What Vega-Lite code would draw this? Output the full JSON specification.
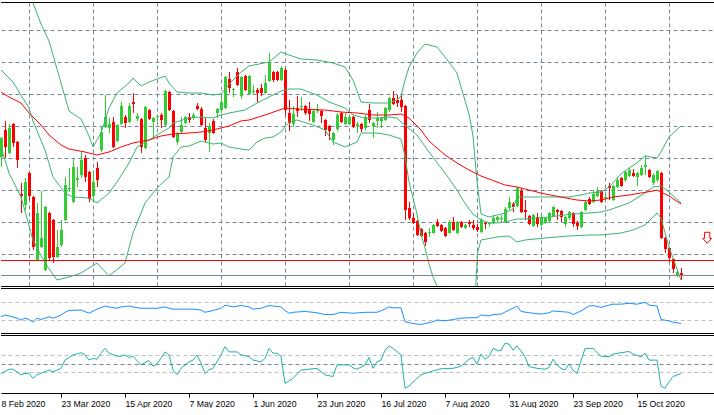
{
  "$schema": "https://vega.github.io/schema/vega-lite/v6.json",
  "description": "Daily candles with Bollinger bands, moving average and two oscillator panels, 28 Feb - 30 Oct 2020.",
  "width": 714,
  "height": 391,
  "autosize": {"type": "pad"},
  "padding": {"left": -1, "top": 2, "right": -1, "bottom": 0},
  "background": "#ffffff",
  "config": {
    "view": {"stroke": null},
    "scale": {"continuousPadding": 0},
    "axis": {"labels": false, "ticks": false, "domain": false, "grid": false, "gridColor": "#778899", "gridDash": [4, 3], "gridWidth": 1, "gridOpacity": 1, "orient": "left"}
  },
  "datasets": {
    "candles": [
      {"k":0,"o":129,"h":149,"l":119,"c":148},{"k":1,"o":156,"h":165,"l":128,"c":139},{"k":2,"o":133,"h":162,"l":132,"c":158},
      {"k":3,"o":162,"h":163,"l":139,"c":143},{"k":4,"o":144,"h":145,"l":118,"c":126},{"k":5,"o":92,"h":103,"l":73,"c":90},
      {"k":6,"o":81,"h":108,"l":76,"c":104},{"k":7,"o":113,"h":114,"l":86,"c":90},{"k":8,"o":89,"h":90,"l":36,"c":39},
      {"k":9,"o":26,"h":83,"l":25,"c":73},{"k":10,"o":39,"h":95,"l":38,"c":48},{"k":11,"o":16,"h":80,"l":15,"c":79},
      {"k":12,"o":73,"h":74,"l":26,"c":28},{"k":13,"o":66,"h":67,"l":23,"c":29},{"k":14,"o":29,"h":56,"l":28,"c":39},
      {"k":15,"o":41,"h":66,"l":39,"c":56},{"k":16,"o":66,"h":109,"l":65,"c":101},{"k":17,"o":97,"h":118,"l":94,"c":98},
      {"k":18,"o":84,"h":127,"l":83,"c":119},{"k":19,"o":106,"h":119,"l":99,"c":108},{"k":20,"o":111,"h":135,"l":108,"c":126},
      {"k":21,"o":128,"h":131,"l":104,"c":109},{"k":22,"o":114,"h":115,"l":84,"c":87},{"k":23,"o":90,"h":114,"l":84,"c":104},
      {"k":24,"o":118,"h":124,"l":99,"c":106},{"k":25,"o":136,"h":159,"l":134,"c":154},{"k":26,"o":159,"h":191,"l":158,"c":169},
      {"k":27,"o":158,"h":168,"l":153,"c":162},{"k":28,"o":164,"h":169,"l":138,"c":139},{"k":29,"o":145,"h":162,"l":144,"c":161},
      {"k":30,"o":162,"h":184,"l":161,"c":180},{"k":31,"o":169,"h":171,"l":158,"c":163},{"k":32,"o":164,"h":183,"l":163,"c":180},
      {"k":33,"o":184,"h":193,"l":173,"c":182},{"k":34,"o":167,"h":173,"l":165,"c":170},{"k":35,"o":167,"h":168,"l":133,"c":139},
      {"k":36,"o":138,"h":180,"l":137,"c":179},{"k":37,"o":176,"h":177,"l":166,"c":167},{"k":38,"o":164,"h":169,"l":148,"c":168},
      {"k":39,"o":169,"h":171,"l":165,"c":170},{"k":40,"o":171,"h":173,"l":158,"c":166},{"k":41,"o":161,"h":196,"l":160,"c":195},
      {"k":42,"o":194,"h":195,"l":175,"c":176},{"k":43,"o":175,"h":176,"l":148,"c":149},{"k":44,"o":144,"h":154,"l":141,"c":153},
      {"k":45,"o":154,"h":169,"l":153,"c":161},{"k":46,"o":163,"h":170,"l":162,"c":169},{"k":47,"o":169,"h":173,"l":163,"c":166},
      {"k":48,"o":168,"h":173,"l":166,"c":171},{"k":49,"o":180,"h":183,"l":176,"c":177},{"k":50,"o":177,"h":179,"l":160,"c":161},
      {"k":51,"o":158,"h":168,"l":144,"c":146},{"k":52,"o":153,"h":163,"l":134,"c":160},{"k":53,"o":165,"h":167,"l":152,"c":153},
      {"k":54,"o":173,"h":178,"l":168,"c":177},{"k":55,"o":176,"h":193,"l":173,"c":184},{"k":56,"o":178,"h":210,"l":177,"c":209},
      {"k":57,"o":207,"h":214,"l":193,"c":198},{"k":58,"o":196,"h":198,"l":189,"c":197},{"k":59,"o":214,"h":218,"l":200,"c":201},
      {"k":60,"o":190,"h":210,"l":187,"c":209},{"k":61,"o":210,"h":211,"l":195,"c":196},{"k":62,"o":192,"h":211,"l":191,"c":210},
      {"k":63,"o":194,"h":201,"l":191,"c":195},{"k":64,"o":196,"h":198,"l":183,"c":193},{"k":65,"o":198,"h":202,"l":190,"c":193},
      {"k":66,"o":193,"h":211,"l":192,"c":203},{"k":67,"o":205,"h":233,"l":204,"c":223},{"k":68,"o":214,"h":215,"l":204,"c":206},
      {"k":69,"o":214,"h":215,"l":205,"c":206},{"k":70,"o":206,"h":220,"l":205,"c":218},{"k":71,"o":216,"h":218,"l":171,"c":176},
      {"k":72,"o":173,"h":186,"l":155,"c":163},{"k":73,"o":162,"h":180,"l":159,"c":172},{"k":74,"o":178,"h":190,"l":169,"c":175},
      {"k":75,"o":179,"h":189,"l":175,"c":180},{"k":76,"o":180,"h":181,"l":171,"c":173},{"k":77,"o":176,"h":184,"l":165,"c":172},
      {"k":78,"o":164,"h":176,"l":163,"c":175},{"k":79,"o":175,"h":182,"l":173,"c":177},{"k":80,"o":175,"h":176,"l":163,"c":170},
      {"k":81,"o":166,"h":167,"l":150,"c":156},{"k":82,"o":160,"h":161,"l":146,"c":155},{"k":83,"o":146,"h":154,"l":141,"c":153},
      {"k":84,"o":157,"h":173,"l":155,"c":171},{"k":85,"o":173,"h":174,"l":163,"c":164},{"k":86,"o":162,"h":173,"l":161,"c":169},
      {"k":87,"o":162,"h":170,"l":161,"c":169},{"k":88,"o":169,"h":170,"l":158,"c":159},{"k":89,"o":160,"h":164,"l":153,"c":162},
      {"k":90,"o":162,"h":163,"l":154,"c":157},{"k":91,"o":158,"h":171,"l":156,"c":169},{"k":92,"o":176,"h":182,"l":163,"c":166},
      {"k":93,"o":160,"h":164,"l":148,"c":163},{"k":94,"o":165,"h":174,"l":158,"c":168},{"k":95,"o":165,"h":169,"l":158,"c":168},
      {"k":96,"o":166,"h":179,"l":165,"c":178},{"k":97,"o":176,"h":189,"l":174,"c":188},{"k":98,"o":188,"h":195,"l":181,"c":182},
      {"k":99,"o":186,"h":191,"l":179,"c":183},{"k":100,"o":186,"h":192,"l":174,"c":179},{"k":101,"o":180,"h":181,"l":66,"c":76},
      {"k":102,"o":78,"h":84,"l":66,"c":68},{"k":103,"o":68,"h":73,"l":62,"c":63},{"k":104,"o":65,"h":66,"l":50,"c":51},
      {"k":105,"o":57,"h":58,"l":49,"c":50},{"k":106,"o":53,"h":54,"l":40,"c":44},{"k":107,"o":53,"h":58,"l":49,"c":54},
      {"k":108,"o":53,"h":62,"l":52,"c":61},{"k":109,"o":64,"h":67,"l":59,"c":60},{"k":110,"o":61,"h":62,"l":54,"c":55},
      {"k":111,"o":58,"h":59,"l":49,"c":50},{"k":112,"o":53,"h":66,"l":52,"c":64},{"k":113,"o":64,"h":69,"l":55,"c":56},
      {"k":114,"o":53,"h":65,"l":52,"c":64},{"k":115,"o":64,"h":65,"l":58,"c":59},{"k":116,"o":58,"h":62,"l":57,"c":61},
      {"k":117,"o":64,"h":66,"l":59,"c":62},{"k":118,"o":61,"h":66,"l":56,"c":58},{"k":119,"o":59,"h":62,"l":54,"c":56},
      {"k":120,"o":54,"h":68,"l":53,"c":66},{"k":121,"o":63,"h":64,"l":57,"c":62},{"k":122,"o":62,"h":64,"l":59,"c":63},
      {"k":123,"o":63,"h":71,"l":62,"c":68},{"k":124,"o":66,"h":70,"l":64,"c":69},{"k":125,"o":67,"h":71,"l":64,"c":68},
      {"k":126,"o":64,"h":79,"l":63,"c":77},{"k":127,"o":78,"h":89,"l":76,"c":84},{"k":128,"o":82,"h":84,"l":74,"c":79},
      {"k":129,"o":80,"h":99,"l":79,"c":98},{"k":130,"o":95,"h":98,"l":73,"c":74},{"k":131,"o":76,"h":86,"l":66,"c":74},
      {"k":132,"o":70,"h":71,"l":61,"c":62},{"k":133,"o":60,"h":72,"l":59,"c":71},{"k":134,"o":69,"h":73,"l":59,"c":62},
      {"k":135,"o":61,"h":73,"l":60,"c":68},{"k":136,"o":63,"h":69,"l":62,"c":68},{"k":137,"o":65,"h":74,"l":64,"c":73},
      {"k":138,"o":70,"h":80,"l":69,"c":79},{"k":139,"o":76,"h":77,"l":66,"c":74},{"k":140,"o":75,"h":76,"l":64,"c":69},
      {"k":141,"o":62,"h":70,"l":59,"c":69},{"k":142,"o":68,"h":75,"l":66,"c":74},{"k":143,"o":73,"h":74,"l":59,"c":62},
      {"k":144,"o":63,"h":65,"l":56,"c":60},{"k":145,"o":59,"h":75,"l":58,"c":74},{"k":146,"o":76,"h":86,"l":75,"c":84},
      {"k":147,"o":87,"h":89,"l":81,"c":82},{"k":148,"o":84,"h":96,"l":83,"c":92},{"k":149,"o":90,"h":99,"l":89,"c":95},
      {"k":150,"o":95,"h":96,"l":83,"c":84},{"k":151,"o":88,"h":91,"l":87,"c":89},{"k":152,"o":100,"h":103,"l":86,"c":98},
      {"k":153,"o":86,"h":101,"l":85,"c":100},{"k":154,"o":99,"h":109,"l":98,"c":106},{"k":155,"o":108,"h":109,"l":99,"c":100},
      {"k":156,"o":106,"h":116,"l":104,"c":114},{"k":157,"o":110,"h":118,"l":109,"c":116},{"k":158,"o":113,"h":117,"l":109,"c":110},
      {"k":159,"o":109,"h":114,"l":100,"c":113},{"k":160,"o":111,"h":121,"l":110,"c":118},{"k":161,"o":119,"h":131,"l":111,"c":121},
      {"k":162,"o":116,"h":117,"l":108,"c":109},{"k":163,"o":103,"h":113,"l":101,"c":111},{"k":164,"o":106,"h":116,"l":104,"c":115},
      {"k":165,"o":113,"h":114,"l":47,"c":48},{"k":166,"o":48,"h":49,"l":33,"c":37},{"k":167,"o":38,"h":39,"l":24,"c":28},
      {"k":168,"o":27,"h":28,"l":13,"c":17},{"k":169,"o":10,"h":15,"l":9,"c":14},{"k":170,"o":13,"h":18,"l":6,"c":11}
    ],
    "bands": [
      {"b":"up","k":6,"v":305},{"b":"up","k":8,"v":283},{"b":"up","k":10,"v":262},{"b":"up","k":12,"v":245},{"b":"up","k":15,"v":203},
      {"b":"up","k":17,"v":175},{"b":"up","k":20,"v":167},{"b":"up","k":22,"v":150},{"b":"up","k":23,"v":139},{"b":"up","k":25,"v":153},
      {"b":"up","k":27,"v":178},{"b":"up","k":29,"v":193},{"b":"up","k":32,"v":203},{"b":"up","k":33,"v":208},{"b":"up","k":35,"v":200},
      {"b":"up","k":37,"v":204},{"b":"up","k":39,"v":207},{"b":"up","k":41,"v":210},{"b":"up","k":42,"v":203},{"b":"up","k":44,"v":194},
      {"b":"up","k":47,"v":193},{"b":"up","k":50,"v":193},{"b":"up","k":53,"v":191},{"b":"up","k":55,"v":192},{"b":"up","k":57,"v":202},
      {"b":"up","k":60,"v":214},{"b":"up","k":62,"v":220},{"b":"up","k":67,"v":224},{"b":"up","k":70,"v":234},{"b":"up","k":72,"v":231},
      {"b":"up","k":75,"v":227},{"b":"up","k":79,"v":226},{"b":"up","k":83,"v":223},{"b":"up","k":86,"v":219},{"b":"up","k":88,"v":206},
      {"b":"up","k":90,"v":184},{"b":"up","k":93,"v":183},{"b":"up","k":97,"v":183},{"b":"up","k":99,"v":186},{"b":"up","k":100,"v":190},
      {"b":"up","k":101,"v":206},{"b":"up","k":102,"v":219},{"b":"up","k":104,"v":233},{"b":"up","k":106,"v":242},{"b":"up","k":109,"v":239},
      {"b":"up","k":111,"v":229},{"b":"up","k":114,"v":213},{"b":"up","k":115,"v":199},{"b":"up","k":117,"v":172},{"b":"up","k":118,"v":150},
      {"b":"up","k":119,"v":105},{"b":"up","k":120,"v":72},{"b":"up","k":122,"v":69},{"b":"up","k":126,"v":73},{"b":"up","k":128,"v":77},
      {"b":"up","k":129,"v":89},{"b":"up","k":138,"v":89},{"b":"up","k":142,"v":89},{"b":"up","k":145,"v":91},{"b":"up","k":147,"v":93},
      {"b":"up","k":150,"v":94},{"b":"up","k":152,"v":99},{"b":"up","k":155,"v":112},{"b":"up","k":157,"v":118},{"b":"up","k":159,"v":123},
      {"b":"up","k":161,"v":130},{"b":"up","k":164,"v":128},{"b":"up","k":165,"v":134},{"b":"up","k":167,"v":149},{"b":"up","k":170,"v":160},
      {"b":"mid","k":0,"v":216},{"b":"mid","k":3,"v":204},{"b":"mid","k":7,"v":178},{"b":"mid","k":8,"v":165},{"b":"mid","k":11,"v":136},
      {"b":"mid","k":13,"v":109},{"b":"mid","k":16,"v":93},{"b":"mid","k":18,"v":89},{"b":"mid","k":22,"v":88},{"b":"mid","k":24,"v":83},
      {"b":"mid","k":27,"v":93},{"b":"mid","k":29,"v":104},{"b":"mid","k":32,"v":123},{"b":"mid","k":34,"v":139},{"b":"mid","k":37,"v":146},
      {"b":"mid","k":39,"v":151},{"b":"mid","k":42,"v":158},{"b":"mid","k":43,"v":163},{"b":"mid","k":47,"v":168},{"b":"mid","k":50,"v":169},
      {"b":"mid","k":53,"v":168},{"b":"mid","k":55,"v":171},{"b":"mid","k":57,"v":173},{"b":"mid","k":61,"v":176},{"b":"mid","k":64,"v":183},
      {"b":"mid","k":67,"v":189},{"b":"mid","k":70,"v":195},{"b":"mid","k":72,"v":197},{"b":"mid","k":75,"v":197},{"b":"mid","k":79,"v":191},
      {"b":"mid","k":82,"v":184},{"b":"mid","k":86,"v":178},{"b":"mid","k":88,"v":171},{"b":"mid","k":91,"v":168},{"b":"mid","k":94,"v":168},
      {"b":"mid","k":97,"v":169},{"b":"mid","k":99,"v":168},{"b":"mid","k":100,"v":164},{"b":"mid","k":104,"v":151},{"b":"mid","k":107,"v":134},
      {"b":"mid","k":111,"v":113},{"b":"mid","k":114,"v":96},{"b":"mid","k":115,"v":89},{"b":"mid","k":117,"v":77},{"b":"mid","k":118,"v":72},
      {"b":"mid","k":120,"v":66},{"b":"mid","k":122,"v":63},{"b":"mid","k":124,"v":63},{"b":"mid","k":126,"v":64},{"b":"mid","k":129,"v":67},
      {"b":"mid","k":131,"v":67},{"b":"mid","k":137,"v":69},{"b":"mid","k":143,"v":72},{"b":"mid","k":147,"v":73},{"b":"mid","k":150,"v":74},
      {"b":"mid","k":152,"v":76},{"b":"mid","k":157,"v":83},{"b":"mid","k":161,"v":93},{"b":"mid","k":163,"v":99},{"b":"mid","k":165,"v":100},
      {"b":"mid","k":167,"v":94},{"b":"mid","k":170,"v":83},
      {"b":"loA","k":0,"v":139},{"b":"loA","k":2,"v":113},{"b":"loA","k":5,"v":89},{"b":"loA","k":8,"v":46},{"b":"loA","k":11,"v":23},
      {"b":"loA","k":14,"v":6},{"b":"loA","k":17,"v":9},{"b":"loA","k":20,"v":13},{"b":"loA","k":24,"v":23},{"b":"loA","k":27,"v":10},
      {"b":"loA","k":31,"v":23},{"b":"loA","k":33,"v":53},{"b":"loA","k":36,"v":83},{"b":"loA","k":39,"v":98},{"b":"loA","k":42,"v":109},
      {"b":"loA","k":43,"v":129},{"b":"loA","k":45,"v":139},{"b":"loA","k":47,"v":140},{"b":"loA","k":50,"v":145},{"b":"loA","k":53,"v":142},
      {"b":"loA","k":55,"v":143},{"b":"loA","k":57,"v":139},{"b":"loA","k":60,"v":137},{"b":"loA","k":62,"v":136},{"b":"loA","k":64,"v":144},
      {"b":"loA","k":66,"v":148},{"b":"loA","k":68,"v":149},{"b":"loA","k":70,"v":154},{"b":"loA","k":72,"v":164},{"b":"loA","k":74,"v":166},
      {"b":"loA","k":78,"v":161},{"b":"loA","k":81,"v":156},{"b":"loA","k":83,"v":144},{"b":"loA","k":86,"v":139},{"b":"loA","k":89,"v":144},
      {"b":"loA","k":90,"v":153},{"b":"loA","k":94,"v":153},{"b":"loA","k":97,"v":151},{"b":"loA","k":100,"v":147},{"b":"loA","k":101,"v":130},
      {"b":"loA","k":102,"v":104},{"b":"loA","k":103,"v":88},{"b":"loA","k":104,"v":72},{"b":"loA","k":105,"v":52},{"b":"loA","k":106,"v":38},
      {"b":"loA","k":107,"v":22},{"b":"loA","k":108,"v":9},{"b":"loA","k":109,"v":0},
      {"b":"loB","k":118.7,"v":0},{"b":"loB","k":119.1,"v":33},{"b":"loB","k":120,"v":46},{"b":"loB","k":124,"v":49},{"b":"loB","k":127,"v":50},
      {"b":"loB","k":129,"v":44},{"b":"loB","k":131,"v":46},{"b":"loB","k":136,"v":48},{"b":"loB","k":142,"v":50},{"b":"loB","k":147,"v":51},
      {"b":"loB","k":150,"v":51},{"b":"loB","k":155,"v":53},{"b":"loB","k":158,"v":56},{"b":"loB","k":161,"v":61},{"b":"loB","k":163,"v":69},
      {"b":"loB","k":164,"v":73},{"b":"loB","k":165,"v":68},{"b":"loB","k":167,"v":39},{"b":"loB","k":170,"v":6}
    ],
    "ma": [
      {"k":0,"v":194},{"k":2,"v":189},{"k":5,"v":183},{"k":7,"v":173},{"k":10,"v":161},{"k":12,"v":151},{"k":15,"v":141},{"k":17,"v":137},
      {"k":21,"v":134},{"k":24,"v":131},{"k":27,"v":134},{"k":30,"v":139},{"k":33,"v":143},{"k":37,"v":146},{"k":40,"v":150},{"k":43,"v":152},
      {"k":47,"v":153},{"k":50,"v":154},{"k":53,"v":156},{"k":57,"v":160},{"k":60,"v":165},{"k":62,"v":166},{"k":66,"v":171},{"k":71,"v":178},
      {"k":74,"v":177},{"k":81,"v":176},{"k":85,"v":174},{"k":89,"v":173},{"k":93,"v":171},{"k":97,"v":171},{"k":100,"v":172},{"k":102,"v":168},
      {"k":105,"v":156},{"k":107,"v":145},{"k":111,"v":131},{"k":114,"v":123},{"k":117,"v":116},{"k":120,"v":110},{"k":122,"v":107},{"k":126,"v":101},
      {"k":129,"v":99},{"k":132,"v":96},{"k":136,"v":92},{"k":140,"v":89},{"k":144,"v":86},{"k":147,"v":85},{"k":150,"v":86},{"k":153,"v":89},
      {"k":157,"v":91},{"k":160,"v":93},{"k":163,"v":95},{"k":164,"v":96},{"k":167,"v":90},{"k":170,"v":82}
    ],
    "signals": [{"k":176.55,"p":48.2}],
    "osc1": [
      {"k":0,"v":36},{"k":1,"v":40},{"k":2,"v":38},{"k":4,"v":33},{"k":5,"v":29},{"k":6,"v":33},{"k":7,"v":30},{"k":8,"v":24},{"k":9,"v":33},
      {"k":10,"v":30},{"k":12,"v":36},{"k":13,"v":33},{"k":14,"v":36},{"k":15,"v":40},{"k":16,"v":46},{"k":17,"v":50},{"k":20,"v":51},{"k":22,"v":44},
      {"k":24,"v":53},{"k":26,"v":60},{"k":27,"v":58},{"k":29,"v":55},{"k":30,"v":58},{"k":32,"v":60},{"k":33,"v":58},{"k":35,"v":55},{"k":37,"v":55},
      {"k":39,"v":55},{"k":41,"v":58},{"k":42,"v":55},{"k":43,"v":53},{"k":46,"v":53},{"k":48,"v":53},{"k":50,"v":51},{"k":51,"v":46},{"k":53,"v":50},
      {"k":55,"v":55},{"k":56,"v":62},{"k":58,"v":58},{"k":60,"v":61},{"k":62,"v":58},{"k":63,"v":53},{"k":65,"v":55},{"k":67,"v":61},{"k":70,"v":58},
      {"k":71,"v":50},{"k":72,"v":44},{"k":73,"v":46},{"k":76,"v":48},{"k":79,"v":45},{"k":81,"v":41},{"k":83,"v":41},{"k":85,"v":46},{"k":88,"v":44},
      {"k":91,"v":46},{"k":94,"v":46},{"k":96,"v":53},{"k":97,"v":58},{"k":98,"v":56},{"k":100,"v":56},{"k":101,"v":25},{"k":103,"v":21},{"k":105,"v":19},
      {"k":108,"v":25},{"k":109,"v":29},{"k":111,"v":27},{"k":113,"v":30},{"k":115,"v":33},{"k":118,"v":34},{"k":119,"v":34},{"k":120,"v":40},{"k":122,"v":38},
      {"k":123,"v":41},{"k":125,"v":42},{"k":127,"v":51},{"k":128,"v":55},{"k":129,"v":60},{"k":130,"v":48},{"k":132,"v":45},{"k":133,"v":44},{"k":135,"v":42},
      {"k":137,"v":45},{"k":138,"v":49},{"k":142,"v":46},{"k":143,"v":41},{"k":145,"v":49},{"k":147,"v":60},{"k":148,"v":61},{"k":150,"v":57},{"k":152,"v":62},
      {"k":153,"v":64},{"k":155,"v":64},{"k":157,"v":66},{"k":159,"v":64},{"k":161,"v":68},{"k":162,"v":62},{"k":164,"v":60},{"k":165,"v":30},{"k":167,"v":27},
      {"k":168,"v":24},{"k":170,"v":21}
    ],
    "osc2": [
      {"k":0,"v":27},{"k":2,"v":37},{"k":3,"v":37},{"k":5,"v":24},{"k":6,"v":27},{"k":7,"v":27},{"k":8,"v":16},{"k":9,"v":24},{"k":11,"v":31},
      {"k":12,"v":35},{"k":13,"v":31},{"k":15,"v":39},{"k":16,"v":58},{"k":18,"v":70},{"k":20,"v":75},{"k":21,"v":70},{"k":22,"v":58},{"k":23,"v":62},
      {"k":24,"v":60},{"k":25,"v":74},{"k":26,"v":85},{"k":27,"v":74},{"k":29,"v":67},{"k":30,"v":67},{"k":31,"v":70},{"k":32,"v":64},{"k":33,"v":67},
      {"k":35,"v":47},{"k":37,"v":57},{"k":38,"v":44},{"k":39,"v":49},{"k":41,"v":77},{"k":42,"v":70},{"k":43,"v":35},{"k":44,"v":24},{"k":45,"v":39},
      {"k":47,"v":54},{"k":48,"v":58},{"k":49,"v":70},{"k":50,"v":51},{"k":51,"v":27},{"k":52,"v":36},{"k":53,"v":39},{"k":55,"v":70},{"k":56,"v":89},
      {"k":57,"v":77},{"k":59,"v":77},{"k":60,"v":70},{"k":62,"v":66},{"k":63,"v":58},{"k":65,"v":54},{"k":66,"v":62},{"k":67,"v":85},{"k":68,"v":74},
      {"k":69,"v":74},{"k":70,"v":67},{"k":71,"v":4},{"k":73,"v":16},{"k":75,"v":35},{"k":77,"v":37},{"k":79,"v":39},{"k":81,"v":24},{"k":83,"v":20},
      {"k":84,"v":47},{"k":87,"v":47},{"k":88,"v":40},{"k":89,"v":37},{"k":91,"v":47},{"k":92,"v":64},{"k":93,"v":39},{"k":94,"v":54},{"k":95,"v":58},
      {"k":96,"v":81},{"k":97,"v":91},{"k":98,"v":85},{"k":100,"v":70},{"k":101,"v":-7},{"k":102,"v":-2},{"k":104,"v":16},{"k":105,"v":24},{"k":108,"v":33},
      {"k":110,"v":38},{"k":113,"v":39},{"k":115,"v":44},{"k":117,"v":60},{"k":118,"v":64},{"k":119,"v":49},{"k":120,"v":72},{"k":121,"v":60},{"k":122,"v":66},
      {"k":123,"v":85},{"k":124,"v":81},{"k":125,"v":80},{"k":126,"v":97},{"k":127,"v":95},{"k":128,"v":81},{"k":129,"v":91},{"k":131,"v":66},{"k":132,"v":43},
      {"k":134,"v":39},{"k":136,"v":37},{"k":137,"v":41},{"k":138,"v":60},{"k":139,"v":47},{"k":140,"v":39},{"k":141,"v":35},{"k":142,"v":49},{"k":143,"v":35},
      {"k":144,"v":27},{"k":146,"v":85},{"k":148,"v":85},{"k":150,"v":67},{"k":152,"v":66},{"k":153,"v":72},{"k":155,"v":75},{"k":157,"v":78},{"k":158,"v":72},
      {"k":160,"v":66},{"k":161,"v":74},{"k":162,"v":58},{"k":164,"v":58},{"k":165,"v":-2},{"k":166,"v":-7},{"k":167,"v":8},{"k":168,"v":20},{"k":170,"v":27}
    ]
  },
  "resolve": {"scale": {"y": "independent"}, "axis": {"x": "independent", "y": "independent"}},
  "layer": [
    {
      "layer": [
        {
          "data": {"name": "candles"},
          "encoding": {
            "x": {"field": "k", "type": "quantitative", "title": null,
                  "scale": {"domain": [0, 178.5], "nice": false, "zero": false, "padding": 0},
                  "axis": {"orient": "top", "grid": true, "values": [7,15,23,31,39,47,55,63,71,79,87,95,103,111,119,127,135,143,151,159,167,175]}},
            "color": {"condition": {"test": "datum.c >= datum.o", "value": "#32cd32"}, "value": "#ff0000"}
          },
          "layer": [
            {"mark": {"type": "rule", "xOffset": 0.5, "strokeWidth": 1},
             "encoding": {
               "y": {"field": "l", "type": "quantitative", "title": null,
                     "scale": {"domain": [0, 284], "range": [284, 0], "nice": false, "zero": false, "padding": 0},
                     "axis": {"orient": "left", "grid": true, "values": [32,64,96,128,160,192,224,256]}},
               "y2": {"field": "h"}}},
            {"mark": {"type": "bar", "width": 3, "xOffset": 0.5},
             "encoding": {
               "y": {"field": "o", "type": "quantitative", "title": null, "scale": {"domain": [0, 284], "range": [284, 0], "nice": false, "zero": false, "padding": 0}},
               "y2": {"field": "c"}}}
          ]
        },
        {
          "data": {"name": "bands"},
          "mark": {"type": "line", "color": "#3cb371", "strokeWidth": 1, "clip": true},
          "encoding": {
            "x": {"field": "k", "type": "quantitative", "title": null, "scale": {"domain": [0, 178.5], "nice": false, "zero": false, "padding": 0}},
            "y": {"field": "v", "type": "quantitative", "title": null, "scale": {"domain": [0, 284], "range": [284, 0], "nice": false, "zero": false, "padding": 0}},
            "detail": {"field": "b"}
          }
        },
        {
          "data": {"name": "ma"},
          "mark": {"type": "line", "color": "#ff0000", "strokeWidth": 1},
          "encoding": {
            "x": {"field": "k", "type": "quantitative", "title": null, "scale": {"domain": [0, 178.5], "nice": false, "zero": false, "padding": 0}},
            "y": {"field": "v", "type": "quantitative", "title": null, "scale": {"domain": [0, 284], "range": [284, 0], "nice": false, "zero": false, "padding": 0}}
          }
        },
        {
          "data": {"values": [{}]},
          "mark": {"type": "rule", "color": "#ff0000", "strokeWidth": 1, "yOffset": 0.5},
          "encoding": {"y": {"datum": 26, "type": "quantitative", "scale": {"domain": [0, 284], "range": [284, 0], "nice": false, "zero": false, "padding": 0}}}
        },
        {
          "data": {"values": [{}]},
          "mark": {"type": "rule", "color": "#778899", "strokeWidth": 1, "yOffset": 0.5},
          "encoding": {"y": {"datum": 11, "type": "quantitative", "scale": {"domain": [0, 284], "range": [284, 0], "nice": false, "zero": false, "padding": 0}}}
        },
        {
          "data": {"values": [{}]},
          "mark": {"type": "rule", "color": "#000000", "strokeWidth": 1, "yOffset": 0.5},
          "encoding": {"y": {"datum": 284, "type": "quantitative", "scale": {"domain": [0, 284], "range": [284, 0], "nice": false, "zero": false, "padding": 0}}}
        },
        {
          "data": {"values": [{}]},
          "mark": {"type": "rule", "color": "#000000", "strokeWidth": 1, "yOffset": 0.5},
          "encoding": {"y": {"datum": 0, "type": "quantitative", "scale": {"domain": [0, 284], "range": [284, 0], "nice": false, "zero": false, "padding": 0}}}
        },
        {
          "data": {"name": "signals"},
          "mark": {"type": "point", "shape": "M-0.48,-1L0.48,-1L0.48,0.1L0.82,0.1L0,1L-0.82,0.1L-0.48,0.1Z", "size": 121, "filled": true, "fill": "#ffffff", "stroke": "#ff0000", "strokeWidth": 1, "opacity": 1},
          "encoding": {
            "x": {"field": "k", "type": "quantitative", "title": null, "scale": {"domain": [0, 178.5], "nice": false, "zero": false, "padding": 0}},
            "y": {"field": "p", "type": "quantitative", "title": null, "scale": {"domain": [0, 284], "range": [284, 0], "nice": false, "zero": false, "padding": 0}}
          }
        }
      ]
    },
    {
      "layer": [
        {
          "data": {"name": "osc1"},
          "mark": {"type": "line", "color": "#1e90ff", "strokeWidth": 1},
          "encoding": {
            "x": {"field": "k", "type": "quantitative", "title": null, "scale": {"domain": [0, 178.5], "nice": false, "zero": false, "padding": 0}, "axis": null},
            "y": {"field": "v", "type": "quantitative", "title": null,
                  "scale": {"domain": [0, 100], "range": [331, 286], "nice": false, "zero": false},
                  "axis": {"orient": "left", "grid": true, "values": [30, 70], "gridColor": "#c0c0c0"}}
          }
        },
        {
          "data": {"values": [{}]},
          "mark": {"type": "rule", "color": "#000000", "strokeWidth": 1, "yOffset": 0.5},
          "encoding": {"y": {"datum": 100, "type": "quantitative", "scale": {"domain": [0, 100], "range": [331, 286], "nice": false, "zero": false}}}
        },
        {
          "data": {"values": [{}]},
          "mark": {"type": "rule", "color": "#000000", "strokeWidth": 1, "yOffset": 0.5},
          "encoding": {"y": {"datum": 0, "type": "quantitative", "scale": {"domain": [0, 100], "range": [331, 286], "nice": false, "zero": false}}}
        }
      ]
    },
    {
      "layer": [
        {
          "data": {"name": "osc2"},
          "mark": {"type": "line", "color": "#20b2aa", "strokeWidth": 1},
          "encoding": {
            "x": {"field": "k", "type": "quantitative", "title": null,
                  "scale": {"domain": [0, 178.5], "nice": false, "zero": false, "padding": 0},
                  "axis": {"orient": "bottom", "values": [0, 15, 31, 47, 63, 79, 95, 111, 127, 143, 159],
                           "labelExpr": "datum.value < 1 ? '8 Feb 2020' : ['23 Mar 2020','15 Apr 2020','7 May 2020','1 Jun 2020','23 Jun 2020','16 Jul 2020','7 Aug 2020','31 Aug 2020','23 Sep 2020','15 Oct 2020'][(datum.value - 15) / 16]",
                           "labels": true, "ticks": true, "domain": true, "grid": false,
                           "domainColor": "#000000", "domainWidth": 1, "tickColor": "#000000", "tickSize": 4, "tickWidth": 1,
                           "tickOpacity": {"condition": {"test": "datum.value < 1", "value": 0}, "value": 1},
                           "labelColor": "#000000", "labelFont": "Liberation Sans", "labelFontSize": 8.7,
                           "labelAlign": "left", "labelBaseline": "top", "labelPadding": 2,
                           "labelFlush": false, "labelOverlap": false, "labelBound": false}},
            "y": {"field": "v", "type": "quantitative", "title": null,
                  "scale": {"domain": [-18, 116], "range": [391, 333], "nice": false, "zero": false},
                  "axis": {"orient": "left", "grid": true, "values": [30, 50, 70],
                           "gridColor": {"condition": {"test": "datum.value === 50", "value": "#778899"}, "value": "#c0c0c0"}}}
          }
        },
        {
          "data": {"values": [{}]},
          "mark": {"type": "rule", "color": "#000000", "strokeWidth": 1, "yOffset": 0.5},
          "encoding": {"y": {"datum": 116, "type": "quantitative", "scale": {"domain": [-18, 116], "range": [391, 333], "nice": false, "zero": false}}}
        }
      ]
    }
  ]
}
